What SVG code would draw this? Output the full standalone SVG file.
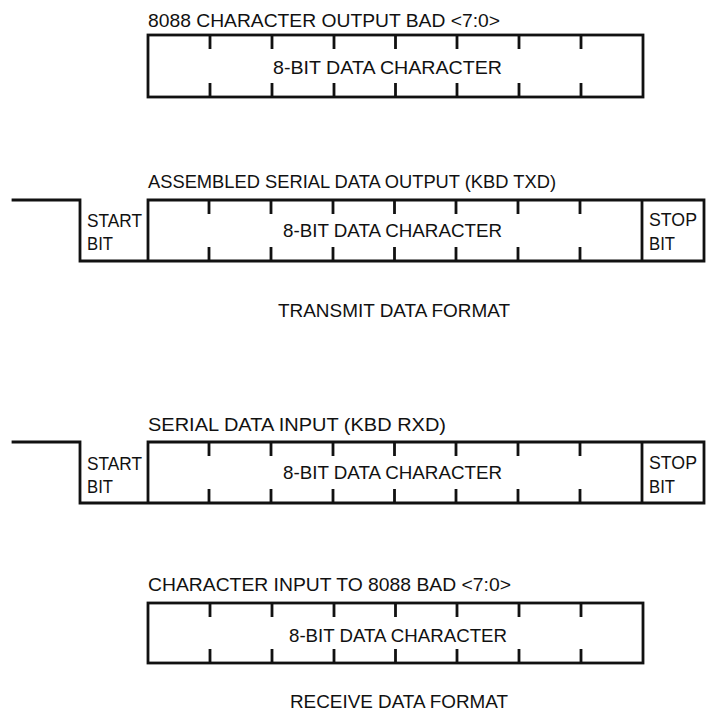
<svg xmlns="http://www.w3.org/2000/svg" width="712" height="722" viewBox="0 0 712 722">
<style>
  .frame { fill: none; stroke: #111; stroke-width: 2.8; stroke-linejoin: miter; stroke-linecap: square; }
  .tick { stroke: #111; stroke-width: 2.8; }
  text { font-family: "Liberation Sans", Arial, sans-serif; font-size: 19px; fill: #111; }
</style>
<defs>
  <g id="ticks8">
    <path class="tick" d="M210,0 v14 M272,0 v14 M334,0 v14 M395.5,0 v14 M457,0 v14 M519,0 v14 M581,0 v14"/>
  </g>
</defs>
<rect width="712" height="722" fill="#fff"/>

<g id="char-output">
  <text x="148" y="27" textLength="352" lengthAdjust="spacingAndGlyphs">8088 CHARACTER OUTPUT BAD &lt;7:0&gt;</text>
  <rect class="frame" x="148" y="35" width="495" height="62"/>
  <use href="#ticks8" y="35"/>
  <use href="#ticks8" y="83"/>
  <text x="273" y="74" textLength="229" lengthAdjust="spacingAndGlyphs">8-BIT DATA CHARACTER</text>
</g>

<g id="tx-serial">
  <text x="148" y="188" textLength="408" lengthAdjust="spacingAndGlyphs">ASSEMBLED SERIAL DATA OUTPUT (KBD TXD)</text>
  <path class="frame" d="M13,200 H80 V261 H704 V200 H148 V261 M642,200 V261"/>
  <use href="#ticks8" x="-1" y="200"/>
  <use href="#ticks8" x="-1" y="247"/>
  <text x="87" y="227" textLength="55" lengthAdjust="spacingAndGlyphs">START</text>
  <text x="87" y="250" textLength="26" lengthAdjust="spacingAndGlyphs">BIT</text>
  <text x="283" y="237" textLength="219" lengthAdjust="spacingAndGlyphs">8-BIT DATA CHARACTER</text>
  <text x="649" y="226" textLength="48" lengthAdjust="spacingAndGlyphs">STOP</text>
  <text x="649" y="250" textLength="26" lengthAdjust="spacingAndGlyphs">BIT</text>
</g>

<g id="tx-title">
  <text x="278" y="317" textLength="232" lengthAdjust="spacingAndGlyphs">TRANSMIT DATA FORMAT</text>
</g>

<g id="rx-serial">
  <text x="148" y="431" textLength="298" lengthAdjust="spacingAndGlyphs">SERIAL DATA INPUT (KBD RXD)</text>
  <path class="frame" d="M13,442 H80 V503 H704 V442 H148 V503 M642,442 V503"/>
  <use href="#ticks8" x="-1" y="442"/>
  <use href="#ticks8" x="-1" y="489"/>
  <text x="87" y="470" textLength="55" lengthAdjust="spacingAndGlyphs">START</text>
  <text x="87" y="493" textLength="26" lengthAdjust="spacingAndGlyphs">BIT</text>
  <text x="283" y="479" textLength="219" lengthAdjust="spacingAndGlyphs">8-BIT DATA CHARACTER</text>
  <text x="649" y="469" textLength="48" lengthAdjust="spacingAndGlyphs">STOP</text>
  <text x="649" y="493" textLength="26" lengthAdjust="spacingAndGlyphs">BIT</text>
</g>

<g id="char-input">
  <text x="148" y="591" textLength="363" lengthAdjust="spacingAndGlyphs">CHARACTER INPUT TO 8088 BAD &lt;7:0&gt;</text>
  <rect class="frame" x="148" y="603" width="495" height="60"/>
  <use href="#ticks8" y="603"/>
  <use href="#ticks8" y="649"/>
  <text x="289" y="642" textLength="218" lengthAdjust="spacingAndGlyphs">8-BIT DATA CHARACTER</text>
</g>

<g id="rx-title">
  <text x="290" y="708" textLength="218" lengthAdjust="spacingAndGlyphs">RECEIVE DATA FORMAT</text>
</g>

<g id="connectors"></g>
</svg>
